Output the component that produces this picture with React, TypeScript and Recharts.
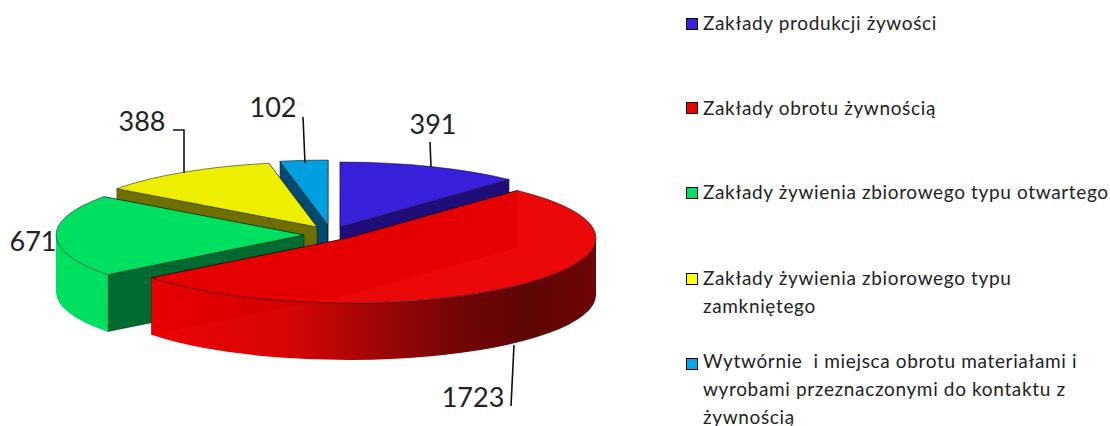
import React from "react";
import { PieChart, Pie, Legend } from "recharts";

const categories = [
  "Zakłady produkcji żywości",
  "Zakłady obrotu żywnością",
  "Zakłady żywienia zbiorowego typu otwartego",
  "Zakłady żywienia zbiorowego typu zamkniętego",
  "Wytwórnie  i miejsca obrotu materiałami i wyrobami przeznaczonymi do kontaktu z żywnością",
];
const values = [391, 1723, 671, 388, 102];

const legendLines = [
  ["Zakłady produkcji żywości"],
  ["Zakłady obrotu żywnością"],
  ["Zakłady żywienia zbiorowego typu otwartego"],
  ["Zakłady żywienia zbiorowego typu", "zamkniętego"],
  ["Wytwórnie  i miejsca obrotu materiałami i", "wyrobami przeznaczonymi do kontaktu z", "żywnością"],
];

// styles, by category
const topColors = ["#381fdc", "#e90000", "#00e060", "#eeee00", "#00a0e0"];
const wallColors = ["#1f0e7a", "#6a0000", "#006a30", "#6f6f00", "#034a70"];
const outerWallColors = ["#1f0e7a", "url(#redWall)", "#00e060", "#6f6f00", "#034a70"];
const legendColors = ["#3a1fe0", "#f00000", "#00e060", "#ffff00", "#00a8f0"];
const explode = [
  [0, 0],
  [8, 11],
  [-36, 8],
  [-23, 0],
  [-12, -2],
];
const squareY = [24, 108, 193, 279, 364];
const textY = [23, 108, 192, 278, 361];
const lineGap = [0, 0, 0, 28, 28];
const labelAt = [
  { x: 433, y: 134, line: [[430, 142], [431, 167]] },
  { x: 473, y: 407, line: [[514, 345], [511, 406]] },
  { x: 33, y: 251, line: [] },
  { x: 142, y: 131, line: [[173, 130], [184, 130], [184, 173]] },
  { x: 273, y: 117, line: [[303, 117], [305, 163]] },
];

// painted back to front: counter-clockwise from the far end of the first slice
const drawOrder = [0, 4, 3, 2, 1];
const table = drawOrder.map((i) => ({ name: categories[i], value: values[i], idx: i }));

const SQUASH = 65 / 248;
const DEPTH = 57;
const FONT = "Lato, 'Open Sans', sans-serif";
const INK = "#222";
const rad = (d: number) => (d * Math.PI) / 180;

function Slice3D(props: any) {
  const { cx, cy, outerRadius, startAngle, endAngle } = props;
  const idx = props.idx ?? props.payload?.idx;
  const rx = outerRadius;
  const ry = outerRadius * SQUASH;
  const ox = cx + explode[idx][0];
  const oy = cy + explode[idx][1];
  const t0 = (((90 - endAngle) % 360) + 360) % 360;
  const t1 = t0 + (endAngle - startAngle);
  const pt = (t: number, d = 0) => [ox + rx * Math.sin(rad(t)), oy - ry * Math.cos(rad(t)) + d];
  const arc = (a: number, b: number, d: number, rev = false) => {
    const [x, y] = rev ? pt(a, d) : pt(b, d);
    const large = Math.abs(b - a) > 180 ? 1 : 0;
    return `A${rx} ${ry} 0 ${large} ${rev ? 0 : 1} ${x} ${y}`;
  };
  const quad = (t: number) => {
    const p = pt(t);
    return `M${ox} ${oy}L${p[0]} ${p[1]}L${p[0]} ${p[1] + DEPTH}L${ox} ${oy + DEPTH}Z`;
  };
  const a = Math.max(t0, 90);
  const b = Math.min(t1, 270);
  const s = pt(t0);
  const top = `M${ox} ${oy}L${s[0]} ${s[1]}${arc(t0, t1, 0)}Z`;
  let outer = "";
  if (b > a) {
    const pa = pt(a);
    const pb = pt(b, DEPTH);
    outer = `M${pa[0]} ${pa[1]}${arc(a, b, 0)}L${pb[0]} ${pb[1]}${arc(a, b, DEPTH, true)}Z`;
  }
  return (
    <g>
      {idx === 1 && (
        <defs>
          <linearGradient id="redWall" gradientUnits="userSpaceOnUse" x1={153} x2={596} y1={0} y2={0}>
            <stop offset="0" stopColor="#ea0000" />
            <stop offset="0.3" stopColor="#d80000" />
            <stop offset="0.5" stopColor="#a00000" />
            <stop offset="0.7" stopColor="#6e0000" />
            <stop offset="0.84" stopColor="#5a0000" />
            <stop offset="1" stopColor="#6c0000" />
          </linearGradient>
        </defs>
      )}
      <path d={quad(t0)} fill={wallColors[idx]} stroke="#000" strokeOpacity={0.45} strokeWidth={0.6} />
      <path d={quad(t1)} fill={wallColors[idx]} stroke="#000" strokeOpacity={0.45} strokeWidth={0.6} />
      {outer && <path d={outer} fill={outerWallColors[idx]} fillOpacity={idx === 1 ? 0.98 : 1} />}
      <path d={top} fill={topColors[idx]} fillOpacity={idx === 1 ? 0.97 : 1} stroke="#000" strokeOpacity={0.7} strokeWidth={0.7} />
    </g>
  );
}

function SliceLabel(props: any) {
  const idx = props.idx ?? props.payload?.idx;
  const at = labelAt[idx];
  return (
    <text x={at.x} y={at.y} textAnchor="middle" fontFamily={FONT} fontSize={27} fill={INK}>
      {props.value}
    </text>
  );
}

function LeaderLine(props: any) {
  const idx = props.idx ?? props.payload?.idx;
  const pts = labelAt[idx].line;
  if (!pts.length) return <g />;
  return <polyline points={pts.map((p) => p.join(",")).join(" ")} fill="none" stroke="#111" strokeWidth={1.6} />;
}

function LegendBox() {
  return (
    <div style={{ position: "relative", width: 1110, height: 426, fontFamily: FONT, fontSize: 19, color: INK }}>
      {legendLines.map((lines, i) => (
        <React.Fragment key={i}>
          <div
            style={{
              position: "absolute",
              left: 686,
              top: squareY[i] - 6,
              width: 10,
              height: 10,
              background: legendColors[i],
              border: "1.5px solid #000",
            }}
          />
          {lines.map((t, j) => (
            <div
              key={j}
              style={{
                position: "absolute",
                left: 703,
                top: textY[i] - 10 + j * lineGap[i],
                lineHeight: "20px",
                whiteSpace: "pre",
                letterSpacing: 0.65,
              }}
            >
              {t}
            </div>
          ))}
        </React.Fragment>
      ))}
    </div>
  );
}

export default function App() {
  return (
    <div style={{ position: "absolute", left: 0, top: 0, width: 1110, height: 426, background: "#fff" }}>
      <PieChart width={1110} height={426} margin={{ top: 0, right: 0, bottom: 0, left: 0 }}>
        <Pie
          data={table}
          dataKey="value"
          nameKey="name"
          cx={340}
          cy={227}
          innerRadius={0}
          outerRadius={248}
          startAngle={47}
          endAngle={407}
          paddingAngle={0}
          stroke="none"
          isAnimationActive={false}
          shape={Slice3D}
          inactiveShape={Slice3D}
          activeShape={Slice3D}
          label={SliceLabel}
          labelLine={LeaderLine}
        />
        <Legend content={LegendBox} wrapperStyle={{ left: 0, top: 0, width: 1110, height: 426 }} />
      </PieChart>
    </div>
  );
}
